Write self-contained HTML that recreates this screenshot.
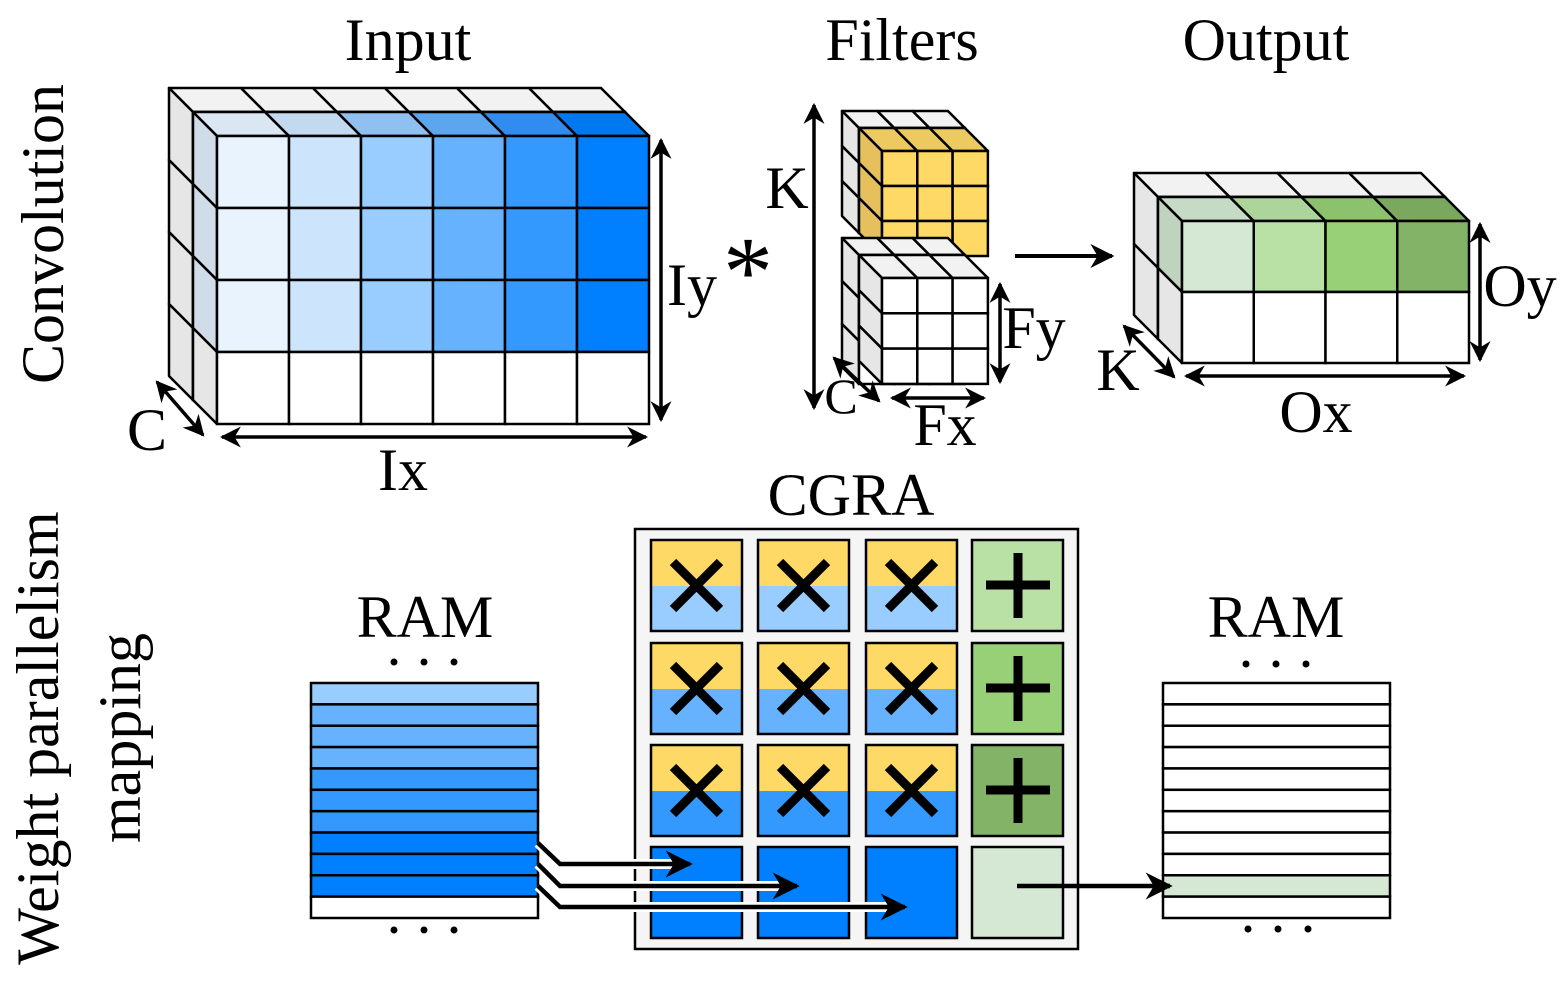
<!DOCTYPE html>
<html><head><meta charset="utf-8"><style>
html,body{margin:0;padding:0;background:#fff;}
svg{display:block;}
text{font-family:"Liberation Serif",serif;fill:#000;}
</style></head><body>
<svg id="s" width="1568" height="986" viewBox="0 0 1568 986" xmlns="http://www.w3.org/2000/svg">
<defs>
<marker id="ah" viewBox="0 0 10 10" refX="9" refY="5" markerWidth="6" markerHeight="6" orient="auto-start-reverse" markerUnits="strokeWidth"><path d="M0,0 L10,5 L0,10 L3,5 z" fill="#000"/></marker>
</defs>
<g id="shapes"></g>
<g font-size="60">
<text x="408" y="60" text-anchor="middle">Input</text>
<text x="902" y="60" text-anchor="middle">Filters</text>
<text x="1266" y="60" text-anchor="middle">Output</text>
<text x="851" y="515" text-anchor="middle">CGRA</text>
<text x="425" y="637" text-anchor="middle">RAM</text>
<text x="1276" y="637" text-anchor="middle">RAM</text>
<text transform="translate(63,234) rotate(-90)" text-anchor="middle">Convolution</text>
<text transform="translate(58,738) rotate(-90)" text-anchor="middle">Weight parallelism</text>
<text transform="translate(140,738) rotate(-90)" text-anchor="middle">mapping</text>
<text x="692" y="305" text-anchor="middle">Iy</text>
<text x="147" y="450" text-anchor="middle">C</text>
<text x="403" y="490" text-anchor="middle">Ix</text>
<text x="787" y="208" text-anchor="middle">K</text>
<text x="1034" y="348" text-anchor="middle">Fy</text>
<text x="841" y="413" text-anchor="middle" font-size="50">C</text>
<text x="945" y="445" text-anchor="middle">Fx</text>
<text x="1520" y="306" text-anchor="middle">Oy</text>
<text x="1118" y="390" text-anchor="middle">K</text>
<text x="1316" y="432" text-anchor="middle">Ox</text>
<text x="748" y="305" text-anchor="middle" font-size="100" font-family="Liberation Sans,sans-serif">*</text>
</g>
</svg>
<script>
const NS="http://www.w3.org/2000/svg";const G=document.getElementById("shapes");
function el(t,a){const e=document.createElementNS(NS,t);for(const k in a)e.setAttribute(k,a[k]);G.appendChild(e);return e;}
function poly(p,f,sw){el("polygon",{points:p.map(q=>q.join(",")).join(" "),fill:f,stroke:"#000","stroke-width":sw||2.5,"stroke-linejoin":"round"});}
function rect(x,y,w,h,f,sw,st){el("rect",{x,y,width:w,height:h,fill:f,stroke:st||"#000","stroke-width":sw||2.5});}
function line(x1,y1,x2,y2,sw,arr,col){const a={x1,y1,x2,y2,stroke:col||"#000","stroke-width":sw||3.5};if(arr){a["marker-end"]="url(#ah)";if(arr==2)a["marker-start"]="url(#ah)";}el("line",a);}
function slab(fx,fy,cw,ch,nc,nr,d,topC,leftC,frontC){
 for(let i=0;i<nc;i++)poly([[fx+i*cw,fy],[fx+(i+1)*cw,fy],[fx+(i+1)*cw-d,fy-d],[fx+i*cw-d,fy-d]],topC(i));
 for(let j=0;j<nr;j++)poly([[fx,fy+j*ch],[fx,fy+(j+1)*ch],[fx-d,fy+(j+1)*ch-d],[fx-d,fy+j*ch-d]],leftC(j));
 for(let i=0;i<nc;i++)for(let j=0;j<nr;j++)rect(fx+i*cw,fy+j*ch,cw,ch,frontC(i,j));
}
const fb=["#e8f3fd","#cce5fd","#99ccff","#66b2ff","#3399ff","#007fff"],tb=["#dae6f2","#c2d9f0","#8fc0f0","#5ca6f0","#308cf0","#0078f0"];
slab(193,112,72,72,6,4,24,()=>"#f2f2f2",()=>"#e6e6e6",()=>"#fff");
slab(217,136,72,72,6,4,24,i=>tb[i],j=>j<3?"#d0dde8":"#e6e6e6",(i,j)=>j<3?fb[i]:"#fff");
line(661,140,661,420,3.5,2);line(157,382,203,435,3.5,2);line(222,437,646,437,3.5,2);
slab(859,128,35.3,35,3,3,17,()=>"#f2f2f2",()=>"#e6e6e6",()=>"#fff");
slab(882,151,35.3,35,3,3,23,()=>"#ecca5f",()=>"#e6c05c",()=>"#ffd966");
slab(859,255,35.3,43,3,3,17,()=>"#f2f2f2",()=>"#e6e6e6",()=>"#fff");
slab(882,278,35.3,35.3,3,3,23,()=>"#f2f2f2",()=>"#e6e6e6",()=>"#fff");
line(814,105,814,408,3.5,2);line(1000,284,1000,382,3.5,2);line(834,358,879,401,3.5,2);line(892,398,984,398,3.5,2);
line(1015,256,1112,256,4,1);
const fg=["#d5e8d4","#b9e0a5","#97d077","#82b366"],tg=["#c6dbc5","#abd59a","#8cc26e","#7aa85f"];
slab(1158,197,71.75,71,4,2,24,()=>"#f2f2f2",()=>"#e6e6e6",()=>"#fff");
slab(1182,221,71.75,71,4,2,24,i=>tg[i],j=>j<1?"#bfd3bf":"#e6e6e6",(i,j)=>j<1?fg[i]:"#fff");
line(1480,224,1480,360,3.5,2);line(1124,326,1174,377,3.5,2);line(1186,376,1464,376,3.5,2);
rect(635,529,443,420,"#f5f5f5",2.5);
const cx=[651,758,866,972],cy=[540,643,745,847],bl=["#99ccff","#66b2ff","#3399ff"],gr=["#b9e0a5","#97d077","#82b366"];
for(let r=0;r<3;r++){for(let c=0;c<3;c++){const x=cx[c],y=cy[r];
 el("rect",{x,y,width:91,height:46,fill:"#ffd966"});el("rect",{x,y:y+46,width:91,height:45,fill:bl[r]});
 rect(x,y,91,91,"none",2.5);
 line(x+22,y+22,x+69,y+69,9);line(x+69,y+22,x+22,y+69,9);}
 const x=cx[3],y=cy[r];rect(x,y,91,91,gr[r],2.5);line(x+46,y+13,x+46,y+78,9);line(x+14,y+45,x+78,y+45,9);}
for(let c=0;c<3;c++)rect(cx[c],cy[3],91,91,"#007fff",2.5);rect(cx[3],cy[3],91,91,"#d5e8d4",2.5);
const rc=["#99ccff","#66b2ff","#66b2ff","#66b2ff","#3399ff","#3399ff","#3399ff","#007fff","#007fff","#007fff","#fff"];
const rh=235/11;
for(let k=0;k<11;k++){rect(311,683+k*rh,227,rh,rc[k],2.5);rect(1163,683+k*rh,227,rh,k==9?"#d5e8d4":"#fff",2.5);}
[[394,662],[424,662],[454,662],[394,930],[424,930],[454,930],[1246,664],[1276,664],[1306,664],[1248,929],[1278,929],[1308,929]].forEach(p=>el("circle",{cx:p[0],cy:p[1],r:3.5,fill:"#000"}));
const ar=[[843,864,690],[864,886,797],[886,907,905]];
ar.forEach(a=>{el("polyline",{points:`538,${a[0]} 560,${a[1]} ${a[2]-12},${a[1]}`,fill:"none",stroke:"#fff","stroke-width":10});});
ar.forEach(a=>{el("polyline",{points:`538,${a[0]} 560,${a[1]} ${a[2]},${a[1]}`,fill:"none",stroke:"#000","stroke-width":4.5,"marker-end":"url(#ah)"});});
line(1017,886,1170,886,4.5,1);
</script>
</body></html>
